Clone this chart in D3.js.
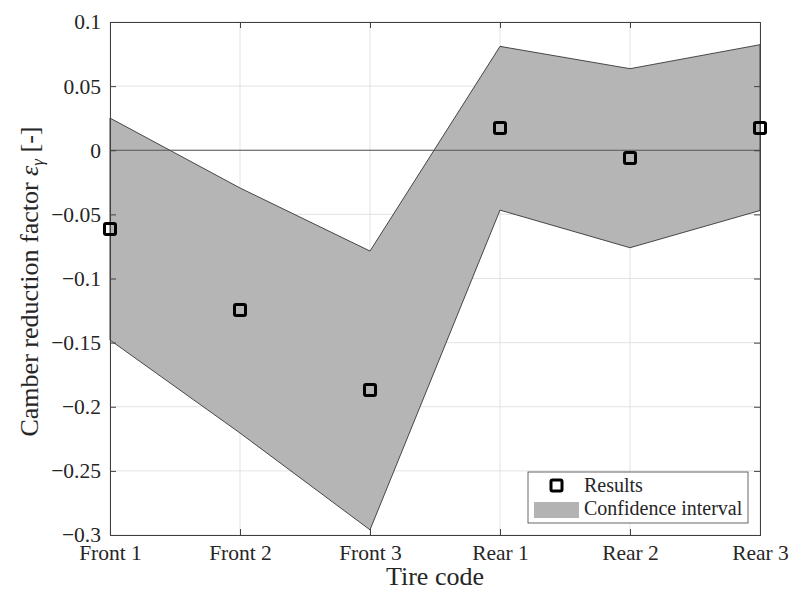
<!DOCTYPE html>
<html>
<head>
<meta charset="utf-8">
<script src="https://cdn.jsdelivr.net/npm/d3@7"></script>
<style>
  body { margin: 0; background: #fff; }
  text { font-family: "Liberation Serif", "DejaVu Serif", serif; fill: #262626; }
</style>
</head>
<body>
<svg id="chart"></svg>
<script>
// Data
const tires = ["Front 1", "Front 2", "Front 3", "Rear 1", "Rear 2", "Rear 3"];
const results = [-0.0614, -0.1245, -0.187, 0.0174, -0.006, 0.0174];
const upper = [0.0251, -0.0294, -0.0786, 0.081, 0.0636, 0.0823];
const lower = [-0.148, -0.2205, -0.296, -0.0467, -0.076, -0.047];
const yTicks = [-0.3, -0.25, -0.2, -0.15, -0.1, -0.05, 0, 0.05, 0.1];

const width = 791;
const height = 592;
const margin = { top: 22, right: 31, bottom: 57, left: 110 };

const svg = d3.select("#chart")
    .attr("width", width)
    .attr("height", height);

const x = d3.scalePoint()
    .domain(tires)
    .range([margin.left, width - margin.right]);

const y = d3.scaleLinear()
    .domain([-0.3, 0.1])
    .range([height - margin.bottom, margin.top]);

const fmt = d => d === 0 ? "0" : d3.format("")(d).replace("-", "\u2212");

// Grid
svg.append("g")
    .selectAll("line")
    .data(yTicks)
    .join("line")
    .attr("x1", margin.left).attr("x2", width - margin.right)
    .attr("y1", d => y(d)).attr("y2", d => y(d))
    .attr("stroke", "#dcdcdc").attr("stroke-width", 0.8);

svg.append("g")
    .selectAll("line")
    .data(tires)
    .join("line")
    .attr("x1", d => x(d)).attr("x2", d => x(d))
    .attr("y1", margin.top).attr("y2", height - margin.bottom)
    .attr("stroke", "#dcdcdc").attr("stroke-width", 0.8);

// Confidence band
const band = tires.map((t, i) => ({ t, lo: lower[i], hi: upper[i] }));
svg.append("path")
    .datum(band)
    .attr("d", d3.area().x(d => x(d.t)).y0(d => y(d.lo)).y1(d => y(d.hi)))
    .attr("fill", "#b3b3b3")
    .attr("fill-opacity", 0.97)
    .attr("stroke", "#222")
    .attr("stroke-width", 0.8);

// Zero line
svg.append("line")
    .attr("x1", margin.left).attr("x2", width - margin.right)
    .attr("y1", y(0)).attr("y2", y(0))
    .attr("stroke", "#555").attr("stroke-width", 1);

// Axes (ticks inward)
svg.append("g")
    .attr("transform", `translate(0,${height - margin.bottom})`)
    .call(d3.axisBottom(x).tickSize(-6).tickPadding(10))
    .call(g => g.select(".domain").attr("stroke", "#404040"))
    .call(g => g.selectAll(".tick line").attr("stroke", "#404040"))
    .call(g => g.selectAll("text").attr("font-size", 21.5).attr("fill", "#262626").attr("font-family", "Liberation Serif, serif"));

svg.append("g")
    .attr("transform", `translate(0,${margin.top})`)
    .call(d3.axisTop(x).tickSize(-6).tickFormat(""))
    .call(g => g.select(".domain").attr("stroke", "#404040"))
    .call(g => g.selectAll(".tick line").attr("stroke", "#404040"));

svg.append("g")
    .attr("transform", `translate(${margin.left},0)`)
    .call(d3.axisLeft(y).tickValues(yTicks).tickFormat(fmt).tickSize(-6).tickPadding(9))
    .call(g => g.select(".domain").attr("stroke", "#404040"))
    .call(g => g.selectAll(".tick line").attr("stroke", "#404040"))
    .call(g => g.selectAll("text").attr("font-size", 21.5).attr("fill", "#262626").attr("font-family", "Liberation Serif, serif"));

svg.append("g")
    .attr("transform", `translate(${width - margin.right},0)`)
    .call(d3.axisRight(y).tickValues(yTicks).tickSize(-6).tickFormat(""))
    .call(g => g.select(".domain").attr("stroke", "#404040"))
    .call(g => g.selectAll(".tick line").attr("stroke", "#404040"));

// Results markers
svg.append("g")
    .selectAll("rect")
    .data(tires.map((t, i) => ({ t, v: results[i] })))
    .join("rect")
    .attr("x", d => x(d.t) - 5.5)
    .attr("y", d => y(d.v) - 5.5)
    .attr("width", 11).attr("height", 11)
    .attr("rx", 1.5)
    .attr("fill", "none")
    .attr("stroke", "#000")
    .attr("stroke-width", 3);

// Axis labels
svg.append("text")
    .attr("x", (margin.left + width - margin.right) / 2)
    .attr("y", 585)
    .attr("text-anchor", "middle")
    .attr("font-size", 26)
    .text("Tire code");

const yl = svg.append("text")
    .attr("transform", `translate(38,${(margin.top + height - margin.bottom) / 2 + 3}) rotate(-90)`)
    .attr("text-anchor", "middle")
    .attr("font-size", 26);
yl.append("tspan").text("Camber reduction factor ");
yl.append("tspan").attr("font-style", "italic").text("ε");
yl.append("tspan").attr("font-style", "italic").attr("font-size", 17).attr("dy", 5).text("γ");
yl.append("tspan").attr("dy", -5).text(" [-]");

// Legend
const legend = svg.append("g").attr("transform", "translate(528,472)");
legend.append("rect")
    .attr("width", 220).attr("height", 51)
    .attr("fill", "#fff").attr("stroke", "#404040").attr("stroke-width", 0.8);
legend.append("rect")
    .attr("x", 23).attr("y", 8).attr("width", 11).attr("height", 11).attr("rx", 1.5)
    .attr("fill", "none").attr("stroke", "#000").attr("stroke-width", 3);
legend.append("text").attr("x", 56).attr("y", 20).attr("font-size", 20).text("Results");
legend.append("rect")
    .attr("x", 6).attr("y", 30).attr("width", 45).attr("height", 16).attr("fill", "#b3b3b3");
legend.append("text").attr("x", 56).attr("y", 43).attr("font-size", 20).text("Confidence interval");
</script>
</body>
</html>
